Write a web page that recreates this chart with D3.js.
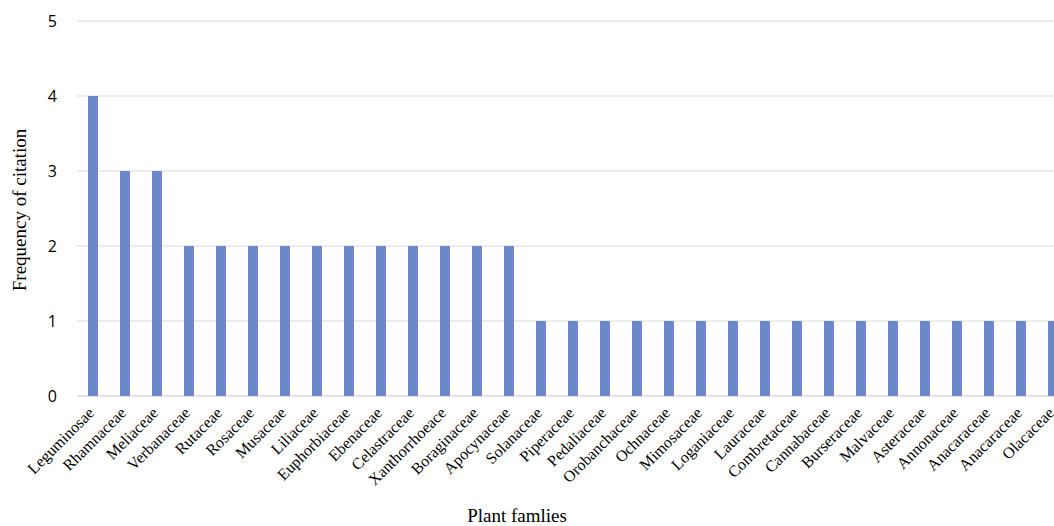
<!DOCTYPE html>
<html>
<head>
<meta charset="utf-8">
<script src="https://cdn.jsdelivr.net/npm/d3@7"></script>
<style>
  body { margin: 0; background: #fff; }
  svg { display: block; }
</style>
</head>
<body>
<div id="chart"></div>
<script>
const width = 1054;
const height = 526;

// plant families and how often each was cited
const families = ["Leguminosae", "Rhamnaceae", "Meliaceae", "Verbanaceae", "Rutaceae", "Rosaceae",
  "Musaceae", "Liliaceae", "Euphorbiaceae", "Ebenaceae", "Celastraceae", "Xanthorrhoeace",
  "Boraginaceae", "Apocynaceae", "Solanaceae", "Piperaceae", "Pedaliaceae", "Orobanchaceae",
  "Ochnaceae", "Mimosaceae", "Loganiaceae", "Lauraceae", "Combretaceae", "Cannabaceae",
  "Burseraceae", "Malvaceae", "Asteraceae", "Annonaceae", "Anacaraceae", "Anacaraceae ",
  "Olacaceae"];
const citations = [4, 3, 3, 2, 2, 2, 2, 2, 2, 2, 2, 2, 2, 2, 1, 1, 1, 1, 1, 1, 1, 1, 1, 1, 1, 1, 1, 1, 1, 1, 1];
const yTicks = [0, 1, 2, 3, 4, 5];

const svg = d3.select("#chart")
  .append("svg")
  .attr("width", width)
  .attr("height", height);

const x = d3.scaleBand()
  .domain(families)
  .range([77, 1069])
  .paddingInner(0.69)
  .paddingOuter(0.345);

const y = d3.scaleLinear()
  .domain([0, 5])
  .range([396, 21]);

// gridlines
svg.append("g")
  .selectAll("line")
  .data(yTicks)
  .enter()
  .append("line")
  .attr("x1", 77)
  .attr("x2", width)
  .attr("y1", d => y(d))
  .attr("y2", d => y(d))
  .attr("stroke", "#d9d9d9")
  .attr("stroke-width", d => d === 0 ? 1.6 : 1.2);

// y tick labels
svg.append("g")
  .selectAll("text")
  .data(yTicks)
  .enter()
  .append("text")
  .attr("x", 57)
  .attr("y", d => y(d) + 6)
  .attr("text-anchor", "end")
  .attr("font-family", "'Open Sans', 'Liberation Sans', sans-serif")
  .attr("font-size", 16)
  .attr("fill", "#000")
  .text(d => d);

// bars
svg.append("g")
  .selectAll("rect")
  .data(families)
  .enter()
  .append("rect")
  .attr("x", d => x(d))
  .attr("width", x.bandwidth())
  .attr("y", (d, i) => y(citations[i]))
  .attr("height", (d, i) => y(0) - y(citations[i]))
  .attr("fill", "#6a87c9");

// category labels
svg.append("g")
  .selectAll("text")
  .data(families)
  .enter()
  .append("text")
  .attr("transform", d => `translate(${x(d) + x.bandwidth() / 2 + 2},${414}) rotate(-45)`)
  .attr("text-anchor", "end")
  .attr("font-family", "'Liberation Serif', 'Times New Roman', serif")
  .attr("font-size", 16)
  .attr("fill", "#000")
  .text(d => d.trim());

// axis titles
svg.append("text")
  .attr("transform", "translate(26,210) rotate(-90)")
  .attr("text-anchor", "middle")
  .attr("font-family", "'Liberation Serif', 'Times New Roman', serif")
  .attr("font-size", 19)
  .attr("fill", "#000")
  .text("Frequency of citation");

svg.append("text")
  .attr("x", 517)
  .attr("y", 522)
  .attr("text-anchor", "middle")
  .attr("font-family", "'Liberation Serif', 'Times New Roman', serif")
  .attr("font-size", 19)
  .attr("fill", "#000")
  .text("Plant famlies");
</script>
</body>
</html>
